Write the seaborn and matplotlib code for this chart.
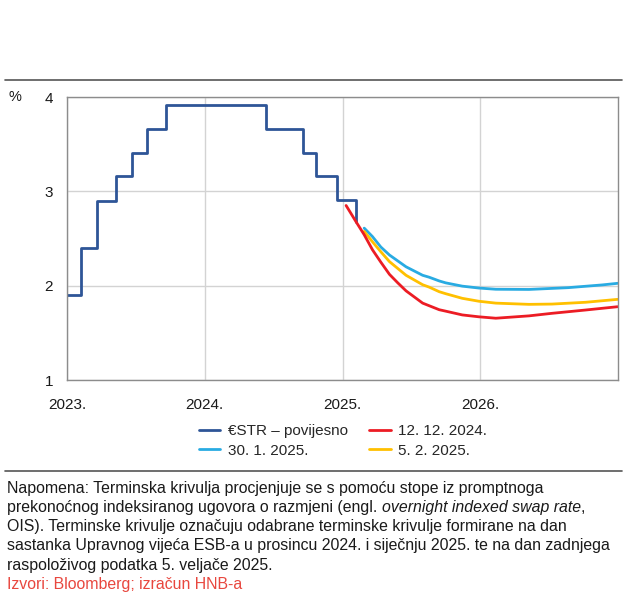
import matplotlib
matplotlib.use("Agg")
import matplotlib.pyplot as plt
from matplotlib.lines import Line2D
import pandas as pd
import seaborn as sns

# €STR history (step changes)
estr_dates = ["2023-01-01", "2023-02-08", "2023-03-22", "2023-05-10", "2023-06-21",
              "2023-08-02", "2023-09-20", "2024-06-12", "2024-09-18", "2024-10-23",
              "2024-12-18", "2025-02-05"]
estr_values = [1.90, 2.40, 2.90, 3.16, 3.41, 3.66, 3.91, 3.66, 3.41, 3.16, 2.91, 2.67]

# forward curves
red_dates = ["2025-01-10", "2025-02-05", "2025-02-27", "2025-03-21", "2025-04-12",
             "2025-05-05", "2025-05-27", "2025-06-18", "2025-08-01", "2025-09-14",
             "2025-10-01", "2025-11-14", "2025-12-28", "2026-02-11", "2026-05-10",
             "2026-07-10", "2026-10-07", "2026-12-31"]
red_values = [2.85, 2.68, 2.54, 2.38, 2.25, 2.12, 2.03, 1.945, 1.815, 1.745,
              1.73, 1.69, 1.67, 1.655, 1.68, 1.707, 1.742, 1.777]

blue_dates = ["2025-02-27", "2025-03-21", "2025-04-12", "2025-05-05", "2025-06-18",
              "2025-08-01", "2025-08-18", "2025-09-14", "2025-10-01", "2025-11-14",
              "2025-12-28", "2026-02-11", "2026-05-10", "2026-08-22", "2026-11-20",
              "2026-12-31"]
blue_values = [2.61, 2.52, 2.41, 2.325, 2.20, 2.11, 2.09, 2.05, 2.03, 1.995,
               1.975, 1.962, 1.96, 1.979, 2.008, 2.025]

yellow_dates = ["2025-02-27", "2025-03-21", "2025-04-12", "2025-05-05", "2025-06-18",
                "2025-08-01", "2025-08-18", "2025-09-14", "2025-10-01", "2025-11-14",
                "2025-12-28", "2026-02-11", "2026-05-10", "2026-07-10", "2026-10-07",
                "2026-12-31"]
yellow_values = [2.575, 2.465, 2.36, 2.255, 2.11, 2.01, 1.985, 1.936, 1.915, 1.866,
                 1.835, 1.815, 1.802, 1.805, 1.824, 1.855]

year_ticks = ["2023-01-01", "2024-01-01", "2025-01-01", "2026-01-01"]
year_labels = ["2023.", "2024.", "2025.", "2026."]
y_ticks = [1, 2, 3, 4]

note_lines = [
    "Napomena: Terminska krivulja procjenjuje se s pomoću stope iz promptnoga",
    None,
    "OIS). Terminske krivulje označuju odabrane terminske krivulje formirane na dan",
    "sastanka Upravnog vijeća ESB-a u prosincu 2024. i siječnju 2025. te na dan zadnjega",
    "raspoloživog podatka 5. veljače 2025.",
]
note_line2 = ["prekonoćnog indeksiranog ugovora o razmjeni (engl. ",
              "overnight indexed swap rate", ","]
source = "Izvori: Bloomberg; izračun HNB-a"

sns.set_theme(style="white")
plt.rcParams["font.family"] = ["Liberation Sans", "DejaVu Sans"]

DARK = "#2e5597"
LIGHT = "#29abe2"
RED = "#ec1c24"
YELLOW = "#ffc000"
TXT = "#1a1a1a"
NOTE_FS = 11.4

fig = plt.figure(figsize=(6.24, 6.01), dpi=100)
ax = fig.add_axes([0.1074, 0.3677, 0.8830, 0.4709])

estr = pd.DataFrame({"date": pd.to_datetime(estr_dates), "v": estr_values})
red = pd.DataFrame({"date": pd.to_datetime(red_dates), "v": red_values})
blue = pd.DataFrame({"date": pd.to_datetime(blue_dates), "v": blue_values})
yellow = pd.DataFrame({"date": pd.to_datetime(yellow_dates), "v": yellow_values})

sns.lineplot(data=estr, x="date", y="v", ax=ax, color=DARK, lw=2.0,
             drawstyle="steps-post", label="€STR – povijesno")
sns.lineplot(data=blue, x="date", y="v", ax=ax, color=LIGHT, lw=2.0, label="30. 1. 2025.")
sns.lineplot(data=yellow, x="date", y="v", ax=ax, color=YELLOW, lw=2.0, label="5. 2. 2025.")
sns.lineplot(data=red, x="date", y="v", ax=ax, color=RED, lw=2.0, label="12. 12. 2024.")

ax.set_xlim(pd.Timestamp("2023-01-01"), pd.Timestamp("2027-01-01"))
ax.set_ylim(1, 4)
ax.set_xticks(pd.to_datetime(year_ticks))
ax.set_xticklabels(year_labels, fontsize=11)
ax.set_yticks(y_ticks)
ax.set_yticklabels([str(t) for t in y_ticks], fontsize=11)
ax.tick_params(axis="x", length=0, pad=13, colors=TXT)
ax.tick_params(axis="y", length=0, pad=10, colors=TXT)
ax.set_xlabel("")
ax.set_ylabel("")
ax.grid(True, color="#d3d3d3", lw=1)
for s in ax.spines.values():
    s.set_color("#8c8c8c")
    s.set_linewidth(1)
ax.get_legend().remove()

h, l = ax.get_legend_handles_labels()
order = [0, 1, 3, 2]
fig.legend([h[i] for i in order], [l[i] for i in order], ncol=2, frameon=False,
           loc="center", bbox_to_anchor=(0.55, 0.266), handlelength=1.4,
           handletextpad=0.5, columnspacing=1.4, labelspacing=0.35,
           prop={"size": 11})

fig.text(0.014, 0.838, "%", fontsize=10.5, va="center", color=TXT)

fig.add_artist(Line2D([0.008, 0.997], [1 - 80 / 601] * 2, color="#555555", lw=1.2))
fig.add_artist(Line2D([0.008, 0.997], [1 - 471 / 601] * 2, color="#555555", lw=1.2))

x0 = 7 / 624
y_top = 1 - 488 / 601
step = 19.3 / 601
for i, line in enumerate(note_lines):
    y = y_top - i * step
    if line is None:
        t = fig.text(x0, y, note_line2[0], fontsize=NOTE_FS, va="center", color=TXT)
        t2 = ax.annotate(note_line2[1], xy=(1, 0), xycoords=t, va="bottom", ha="left",
                         fontsize=NOTE_FS, fontstyle="italic", color=TXT,
                         annotation_clip=False)
        ax.annotate(note_line2[2], xy=(1, 0), xycoords=t2, va="bottom", ha="left",
                    fontsize=NOTE_FS, color=TXT, annotation_clip=False)
    else:
        fig.text(x0, y, line, fontsize=NOTE_FS, va="center", color=TXT)
fig.text(x0, y_top - 5 * step, source, fontsize=NOTE_FS, va="center", color="#e8473e")

fig.savefig("out.png", dpi=100)
